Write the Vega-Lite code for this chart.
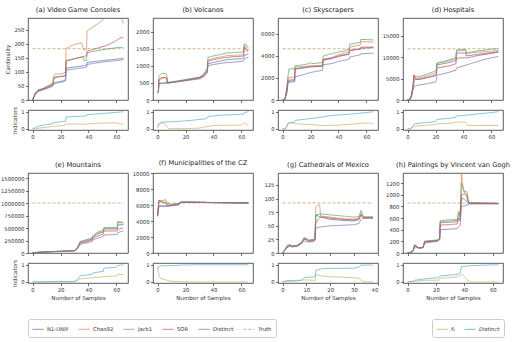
{
"$schema":"https://vega.github.io/schema/vega-lite/v6.json",
"padding":{"left":0,"top":6,"right":5,"bottom":4},
"datasets":{
"m":[
{"p":"a","s":"Truth","x":0,"y":182},{"p":"a","s":"Truth","x":65,"y":182},
{"p":"a","s":"N1-UNIF","x":0,"y":0},{"p":"a","s":"N1-UNIF","x":2,"y":22},{"p":"a","s":"N1-UNIF","x":4,"y":32},{"p":"a","s":"N1-UNIF","x":7,"y":37},{"p":"a","s":"N1-UNIF","x":10,"y":42},{"p":"a","s":"N1-UNIF","x":13,"y":48},{"p":"a","s":"N1-UNIF","x":14.6,"y":52},{"p":"a","s":"N1-UNIF","x":15,"y":60},{"p":"a","s":"N1-UNIF","x":19,"y":65},{"p":"a","s":"N1-UNIF","x":22,"y":68},{"p":"a","s":"N1-UNIF","x":23.6,"y":72},{"p":"a","s":"N1-UNIF","x":24,"y":113},{"p":"a","s":"N1-UNIF","x":30,"y":117},{"p":"a","s":"N1-UNIF","x":37,"y":122},{"p":"a","s":"N1-UNIF","x":38.6,"y":124},{"p":"a","s":"N1-UNIF","x":39,"y":133},{"p":"a","s":"N1-UNIF","x":45,"y":137},{"p":"a","s":"N1-UNIF","x":52,"y":141},{"p":"a","s":"N1-UNIF","x":60,"y":145},{"p":"a","s":"N1-UNIF","x":65,"y":148},
{"p":"a","s":"Chao92","x":0,"y":0},{"p":"a","s":"Chao92","x":2,"y":26},{"p":"a","s":"Chao92","x":4,"y":36},{"p":"a","s":"Chao92","x":7,"y":40},{"p":"a","s":"Chao92","x":10,"y":48},{"p":"a","s":"Chao92","x":13,"y":56},{"p":"a","s":"Chao92","x":14.6,"y":62},{"p":"a","s":"Chao92","x":15,"y":85},{"p":"a","s":"Chao92","x":16,"y":93},{"p":"a","s":"Chao92","x":19,"y":92},{"p":"a","s":"Chao92","x":22,"y":95},{"p":"a","s":"Chao92","x":23.6,"y":100},{"p":"a","s":"Chao92","x":24,"y":183},{"p":"a","s":"Chao92","x":27,"y":190},{"p":"a","s":"Chao92","x":30,"y":197},{"p":"a","s":"Chao92","x":35,"y":203},{"p":"a","s":"Chao92","x":36.5,"y":180},{"p":"a","s":"Chao92","x":38.6,"y":178},{"p":"a","s":"Chao92","x":39,"y":245},{"p":"a","s":"Chao92","x":44,"y":262},{"p":"a","s":"Chao92","x":48,"y":275},{"p":"a","s":"Chao92","x":52,"y":292},{"p":"a","s":"Chao92","x":56,"y":300},{"p":"a","s":"Chao92","x":61,"y":305},{"p":"a","s":"Chao92","x":64,"y":285},{"p":"a","s":"Chao92","x":65,"y":272},
{"p":"a","s":"Jack1","x":0,"y":0},{"p":"a","s":"Jack1","x":2,"y":24},{"p":"a","s":"Jack1","x":4,"y":34},{"p":"a","s":"Jack1","x":7,"y":39},{"p":"a","s":"Jack1","x":10,"y":45},{"p":"a","s":"Jack1","x":13,"y":52},{"p":"a","s":"Jack1","x":14.6,"y":56},{"p":"a","s":"Jack1","x":15,"y":72},{"p":"a","s":"Jack1","x":16,"y":82},{"p":"a","s":"Jack1","x":19,"y":84},{"p":"a","s":"Jack1","x":22,"y":85},{"p":"a","s":"Jack1","x":23.6,"y":88},{"p":"a","s":"Jack1","x":24,"y":140},{"p":"a","s":"Jack1","x":30,"y":147},{"p":"a","s":"Jack1","x":36,"y":153},{"p":"a","s":"Jack1","x":37,"y":140},{"p":"a","s":"Jack1","x":38.6,"y":140},{"p":"a","s":"Jack1","x":39,"y":168},{"p":"a","s":"Jack1","x":45,"y":174},{"p":"a","s":"Jack1","x":52,"y":180},{"p":"a","s":"Jack1","x":58,"y":184},{"p":"a","s":"Jack1","x":62,"y":187},{"p":"a","s":"Jack1","x":65,"y":185},
{"p":"a","s":"SOR","x":0,"y":0},{"p":"a","s":"SOR","x":2,"y":24},{"p":"a","s":"SOR","x":4,"y":34},{"p":"a","s":"SOR","x":7,"y":39},{"p":"a","s":"SOR","x":10,"y":45},{"p":"a","s":"SOR","x":13,"y":52},{"p":"a","s":"SOR","x":14.6,"y":56},{"p":"a","s":"SOR","x":15,"y":70},{"p":"a","s":"SOR","x":16,"y":80},{"p":"a","s":"SOR","x":19,"y":82},{"p":"a","s":"SOR","x":22,"y":84},{"p":"a","s":"SOR","x":23.6,"y":87},{"p":"a","s":"SOR","x":24,"y":138},{"p":"a","s":"SOR","x":30,"y":146},{"p":"a","s":"SOR","x":37,"y":155},{"p":"a","s":"SOR","x":38.6,"y":157},{"p":"a","s":"SOR","x":39,"y":173},{"p":"a","s":"SOR","x":45,"y":182},{"p":"a","s":"SOR","x":52,"y":192},{"p":"a","s":"SOR","x":58,"y":205},{"p":"a","s":"SOR","x":62,"y":218},{"p":"a","s":"SOR","x":64,"y":222},{"p":"a","s":"SOR","x":65,"y":219},
{"p":"a","s":"Distinct","x":0,"y":0},{"p":"a","s":"Distinct","x":2,"y":20},{"p":"a","s":"Distinct","x":4,"y":30},{"p":"a","s":"Distinct","x":7,"y":35},{"p":"a","s":"Distinct","x":10,"y":40},{"p":"a","s":"Distinct","x":13,"y":46},{"p":"a","s":"Distinct","x":14.6,"y":50},{"p":"a","s":"Distinct","x":15,"y":57},{"p":"a","s":"Distinct","x":19,"y":62},{"p":"a","s":"Distinct","x":22,"y":65},{"p":"a","s":"Distinct","x":23.6,"y":68},{"p":"a","s":"Distinct","x":24,"y":106},{"p":"a","s":"Distinct","x":30,"y":110},{"p":"a","s":"Distinct","x":37,"y":115},{"p":"a","s":"Distinct","x":38.6,"y":117},{"p":"a","s":"Distinct","x":39,"y":126},{"p":"a","s":"Distinct","x":45,"y":131},{"p":"a","s":"Distinct","x":52,"y":136},{"p":"a","s":"Distinct","x":60,"y":140},{"p":"a","s":"Distinct","x":65,"y":143},

{"p":"b","s":"Truth","x":0,"y":1500},{"p":"b","s":"Truth","x":65,"y":1500},
{"p":"b","s":"N1-UNIF","x":0,"y":210},{"p":"b","s":"N1-UNIF","x":0.6,"y":240},{"p":"b","s":"N1-UNIF","x":1,"y":490},{"p":"b","s":"N1-UNIF","x":5,"y":500},{"p":"b","s":"N1-UNIF","x":10,"y":520},{"p":"b","s":"N1-UNIF","x":20,"y":575},{"p":"b","s":"N1-UNIF","x":30,"y":640},{"p":"b","s":"N1-UNIF","x":33,"y":700},{"p":"b","s":"N1-UNIF","x":35,"y":790},{"p":"b","s":"N1-UNIF","x":35.6,"y":830},{"p":"b","s":"N1-UNIF","x":36,"y":1060},{"p":"b","s":"N1-UNIF","x":40,"y":1100},{"p":"b","s":"N1-UNIF","x":45,"y":1140},{"p":"b","s":"N1-UNIF","x":50,"y":1180},{"p":"b","s":"N1-UNIF","x":55,"y":1200},{"p":"b","s":"N1-UNIF","x":60,"y":1210},{"p":"b","s":"N1-UNIF","x":61.6,"y":1230},{"p":"b","s":"N1-UNIF","x":62,"y":1300},{"p":"b","s":"N1-UNIF","x":65,"y":1350},
{"p":"b","s":"Chao92","x":0,"y":220},{"p":"b","s":"Chao92","x":0.6,"y":250},{"p":"b","s":"Chao92","x":1,"y":600},{"p":"b","s":"Chao92","x":3,"y":660},{"p":"b","s":"Chao92","x":6,"y":660},{"p":"b","s":"Chao92","x":6.6,"y":650},{"p":"b","s":"Chao92","x":7,"y":500},{"p":"b","s":"Chao92","x":10,"y":515},{"p":"b","s":"Chao92","x":20,"y":590},{"p":"b","s":"Chao92","x":30,"y":660},{"p":"b","s":"Chao92","x":33,"y":730},{"p":"b","s":"Chao92","x":35,"y":850},{"p":"b","s":"Chao92","x":35.6,"y":890},{"p":"b","s":"Chao92","x":36,"y":1170},{"p":"b","s":"Chao92","x":40,"y":1220},{"p":"b","s":"Chao92","x":45,"y":1260},{"p":"b","s":"Chao92","x":50,"y":1300},{"p":"b","s":"Chao92","x":55,"y":1310},{"p":"b","s":"Chao92","x":60,"y":1320},{"p":"b","s":"Chao92","x":61.6,"y":1350},{"p":"b","s":"Chao92","x":62,"y":1600},{"p":"b","s":"Chao92","x":63.6,"y":1500},{"p":"b","s":"Chao92","x":64,"y":1420},{"p":"b","s":"Chao92","x":65,"y":1460},
{"p":"b","s":"Jack1","x":0,"y":220},{"p":"b","s":"Jack1","x":0.6,"y":260},{"p":"b","s":"Jack1","x":1,"y":700},{"p":"b","s":"Jack1","x":3,"y":780},{"p":"b","s":"Jack1","x":6,"y":770},{"p":"b","s":"Jack1","x":6.6,"y":740},{"p":"b","s":"Jack1","x":7,"y":520},{"p":"b","s":"Jack1","x":10,"y":530},{"p":"b","s":"Jack1","x":20,"y":600},{"p":"b","s":"Jack1","x":30,"y":670},{"p":"b","s":"Jack1","x":33,"y":760},{"p":"b","s":"Jack1","x":35,"y":900},{"p":"b","s":"Jack1","x":35.6,"y":950},{"p":"b","s":"Jack1","x":36,"y":1250},{"p":"b","s":"Jack1","x":40,"y":1290},{"p":"b","s":"Jack1","x":45,"y":1330},{"p":"b","s":"Jack1","x":50,"y":1380},{"p":"b","s":"Jack1","x":55,"y":1390},{"p":"b","s":"Jack1","x":60,"y":1400},{"p":"b","s":"Jack1","x":61.6,"y":1420},{"p":"b","s":"Jack1","x":62,"y":1640},{"p":"b","s":"Jack1","x":63.6,"y":1610},{"p":"b","s":"Jack1","x":64,"y":1550},{"p":"b","s":"Jack1","x":65,"y":1540},
{"p":"b","s":"SOR","x":0,"y":220},{"p":"b","s":"SOR","x":0.6,"y":250},{"p":"b","s":"SOR","x":1,"y":580},{"p":"b","s":"SOR","x":3,"y":640},{"p":"b","s":"SOR","x":6,"y":650},{"p":"b","s":"SOR","x":6.6,"y":640},{"p":"b","s":"SOR","x":7,"y":490},{"p":"b","s":"SOR","x":10,"y":510},{"p":"b","s":"SOR","x":20,"y":580},{"p":"b","s":"SOR","x":30,"y":650},{"p":"b","s":"SOR","x":33,"y":720},{"p":"b","s":"SOR","x":35,"y":830},{"p":"b","s":"SOR","x":35.6,"y":870},{"p":"b","s":"SOR","x":36,"y":1140},{"p":"b","s":"SOR","x":40,"y":1180},{"p":"b","s":"SOR","x":45,"y":1220},{"p":"b","s":"SOR","x":50,"y":1250},{"p":"b","s":"SOR","x":55,"y":1270},{"p":"b","s":"SOR","x":60,"y":1280},{"p":"b","s":"SOR","x":61.6,"y":1300},{"p":"b","s":"SOR","x":62,"y":1550},{"p":"b","s":"SOR","x":63.6,"y":1470},{"p":"b","s":"SOR","x":64,"y":1450},{"p":"b","s":"SOR","x":65,"y":1480},
{"p":"b","s":"Distinct","x":0,"y":200},{"p":"b","s":"Distinct","x":0.6,"y":230},{"p":"b","s":"Distinct","x":1,"y":470},{"p":"b","s":"Distinct","x":5,"y":490},{"p":"b","s":"Distinct","x":10,"y":510},{"p":"b","s":"Distinct","x":20,"y":560},{"p":"b","s":"Distinct","x":30,"y":620},{"p":"b","s":"Distinct","x":33,"y":680},{"p":"b","s":"Distinct","x":35,"y":760},{"p":"b","s":"Distinct","x":35.6,"y":800},{"p":"b","s":"Distinct","x":36,"y":1000},{"p":"b","s":"Distinct","x":40,"y":1040},{"p":"b","s":"Distinct","x":45,"y":1070},{"p":"b","s":"Distinct","x":50,"y":1100},{"p":"b","s":"Distinct","x":55,"y":1110},{"p":"b","s":"Distinct","x":60,"y":1130},{"p":"b","s":"Distinct","x":61.6,"y":1150},{"p":"b","s":"Distinct","x":62,"y":1200},{"p":"b","s":"Distinct","x":65,"y":1260},

{"p":"c","s":"Truth","x":0,"y":4650},{"p":"c","s":"Truth","x":65,"y":4650},
{"p":"c","s":"N1-UNIF","x":0,"y":0},{"p":"c","s":"N1-UNIF","x":1.6,"y":50},{"p":"c","s":"N1-UNIF","x":2,"y":220},{"p":"c","s":"N1-UNIF","x":3,"y":700},{"p":"c","s":"N1-UNIF","x":4,"y":1700},{"p":"c","s":"N1-UNIF","x":8.6,"y":1750},{"p":"c","s":"N1-UNIF","x":9,"y":2800},{"p":"c","s":"N1-UNIF","x":15,"y":2900},{"p":"c","s":"N1-UNIF","x":20,"y":3000},{"p":"c","s":"N1-UNIF","x":28.6,"y":3050},{"p":"c","s":"N1-UNIF","x":29,"y":3600},{"p":"c","s":"N1-UNIF","x":35,"y":3750},{"p":"c","s":"N1-UNIF","x":40,"y":3950},{"p":"c","s":"N1-UNIF","x":47.6,"y":4150},{"p":"c","s":"N1-UNIF","x":48,"y":4500},{"p":"c","s":"N1-UNIF","x":55.6,"y":4600},{"p":"c","s":"N1-UNIF","x":56,"y":4700},{"p":"c","s":"N1-UNIF","x":65,"y":4750},
{"p":"c","s":"Chao92","x":0,"y":0},{"p":"c","s":"Chao92","x":1.6,"y":60},{"p":"c","s":"Chao92","x":2,"y":250},{"p":"c","s":"Chao92","x":3,"y":900},{"p":"c","s":"Chao92","x":4,"y":2000},{"p":"c","s":"Chao92","x":8.6,"y":2100},{"p":"c","s":"Chao92","x":9,"y":3000},{"p":"c","s":"Chao92","x":15,"y":3050},{"p":"c","s":"Chao92","x":20,"y":3100},{"p":"c","s":"Chao92","x":28.6,"y":3150},{"p":"c","s":"Chao92","x":29,"y":3700},{"p":"c","s":"Chao92","x":35,"y":3850},{"p":"c","s":"Chao92","x":40,"y":4100},{"p":"c","s":"Chao92","x":47.6,"y":4400},{"p":"c","s":"Chao92","x":48,"y":4800},{"p":"c","s":"Chao92","x":55.6,"y":5000},{"p":"c","s":"Chao92","x":56,"y":5300},{"p":"c","s":"Chao92","x":65,"y":5250},
{"p":"c","s":"Jack1","x":0,"y":0},{"p":"c","s":"Jack1","x":1.6,"y":60},{"p":"c","s":"Jack1","x":2,"y":280},{"p":"c","s":"Jack1","x":3,"y":1100},{"p":"c","s":"Jack1","x":4,"y":2300},{"p":"c","s":"Jack1","x":4.6,"y":2800},{"p":"c","s":"Jack1","x":8.6,"y":2850},{"p":"c","s":"Jack1","x":9,"y":3100},{"p":"c","s":"Jack1","x":15,"y":3200},{"p":"c","s":"Jack1","x":19,"y":3300},{"p":"c","s":"Jack1","x":20,"y":3400},{"p":"c","s":"Jack1","x":21,"y":3300},{"p":"c","s":"Jack1","x":28.6,"y":3400},{"p":"c","s":"Jack1","x":29,"y":4000},{"p":"c","s":"Jack1","x":35,"y":4200},{"p":"c","s":"Jack1","x":40,"y":4350},{"p":"c","s":"Jack1","x":44,"y":4450},{"p":"c","s":"Jack1","x":47.6,"y":4600},{"p":"c","s":"Jack1","x":48,"y":5050},{"p":"c","s":"Jack1","x":55.6,"y":5250},{"p":"c","s":"Jack1","x":56,"y":5500},{"p":"c","s":"Jack1","x":65,"y":5450},
{"p":"c","s":"SOR","x":0,"y":0},{"p":"c","s":"SOR","x":1.6,"y":50},{"p":"c","s":"SOR","x":2,"y":230},{"p":"c","s":"SOR","x":3,"y":800},{"p":"c","s":"SOR","x":4,"y":1800},{"p":"c","s":"SOR","x":8.6,"y":1850},{"p":"c","s":"SOR","x":9,"y":2850},{"p":"c","s":"SOR","x":15,"y":2950},{"p":"c","s":"SOR","x":20,"y":3050},{"p":"c","s":"SOR","x":28.6,"y":3100},{"p":"c","s":"SOR","x":29,"y":3650},{"p":"c","s":"SOR","x":35,"y":3800},{"p":"c","s":"SOR","x":40,"y":4000},{"p":"c","s":"SOR","x":47.6,"y":4200},{"p":"c","s":"SOR","x":48,"y":4500},{"p":"c","s":"SOR","x":55.6,"y":4650},{"p":"c","s":"SOR","x":56,"y":4800},{"p":"c","s":"SOR","x":65,"y":4800},
{"p":"c","s":"Distinct","x":0,"y":0},{"p":"c","s":"Distinct","x":1.6,"y":50},{"p":"c","s":"Distinct","x":2,"y":200},{"p":"c","s":"Distinct","x":3,"y":600},{"p":"c","s":"Distinct","x":4,"y":1600},{"p":"c","s":"Distinct","x":8.6,"y":1650},{"p":"c","s":"Distinct","x":9,"y":2100},{"p":"c","s":"Distinct","x":15,"y":2300},{"p":"c","s":"Distinct","x":20,"y":2500},{"p":"c","s":"Distinct","x":28.6,"y":2700},{"p":"c","s":"Distinct","x":29,"y":3200},{"p":"c","s":"Distinct","x":35,"y":3300},{"p":"c","s":"Distinct","x":40,"y":3500},{"p":"c","s":"Distinct","x":47.6,"y":3700},{"p":"c","s":"Distinct","x":48,"y":3900},{"p":"c","s":"Distinct","x":55.6,"y":4100},{"p":"c","s":"Distinct","x":56,"y":4200},{"p":"c","s":"Distinct","x":65,"y":4250},

{"p":"d","s":"Truth","x":0,"y":12000},{"p":"d","s":"Truth","x":65,"y":12000},
{"p":"d","s":"N1-UNIF","x":0,"y":0},{"p":"d","s":"N1-UNIF","x":2,"y":250},{"p":"d","s":"N1-UNIF","x":3,"y":1200},{"p":"d","s":"N1-UNIF","x":4,"y":3000},{"p":"d","s":"N1-UNIF","x":5,"y":4800},{"p":"d","s":"N1-UNIF","x":10,"y":5000},{"p":"d","s":"N1-UNIF","x":15,"y":5400},{"p":"d","s":"N1-UNIF","x":20,"y":5800},{"p":"d","s":"N1-UNIF","x":20.6,"y":6200},{"p":"d","s":"N1-UNIF","x":21,"y":8200},{"p":"d","s":"N1-UNIF","x":30,"y":8800},{"p":"d","s":"N1-UNIF","x":34.6,"y":9200},{"p":"d","s":"N1-UNIF","x":35,"y":11000},{"p":"d","s":"N1-UNIF","x":41.6,"y":11000},{"p":"d","s":"N1-UNIF","x":42,"y":10300},{"p":"d","s":"N1-UNIF","x":50,"y":10700},{"p":"d","s":"N1-UNIF","x":60,"y":11100},{"p":"d","s":"N1-UNIF","x":65,"y":11300},
{"p":"d","s":"Chao92","x":0,"y":0},{"p":"d","s":"Chao92","x":2,"y":280},{"p":"d","s":"Chao92","x":3,"y":1400},{"p":"d","s":"Chao92","x":4,"y":3500},{"p":"d","s":"Chao92","x":4.6,"y":6000},{"p":"d","s":"Chao92","x":5,"y":5600},{"p":"d","s":"Chao92","x":6,"y":5100},{"p":"d","s":"Chao92","x":10,"y":5300},{"p":"d","s":"Chao92","x":15,"y":5800},{"p":"d","s":"Chao92","x":20,"y":6300},{"p":"d","s":"Chao92","x":20.6,"y":6700},{"p":"d","s":"Chao92","x":21,"y":8500},{"p":"d","s":"Chao92","x":30,"y":9200},{"p":"d","s":"Chao92","x":34.6,"y":9600},{"p":"d","s":"Chao92","x":35,"y":11500},{"p":"d","s":"Chao92","x":41.6,"y":11600},{"p":"d","s":"Chao92","x":42,"y":10900},{"p":"d","s":"Chao92","x":50,"y":11200},{"p":"d","s":"Chao92","x":60,"y":11400},{"p":"d","s":"Chao92","x":65,"y":11600},
{"p":"d","s":"Jack1","x":0,"y":0},{"p":"d","s":"Jack1","x":2,"y":300},{"p":"d","s":"Jack1","x":3,"y":1600},{"p":"d","s":"Jack1","x":4,"y":4000},{"p":"d","s":"Jack1","x":4.6,"y":5500},{"p":"d","s":"Jack1","x":6,"y":5500},{"p":"d","s":"Jack1","x":10,"y":5600},{"p":"d","s":"Jack1","x":15,"y":6200},{"p":"d","s":"Jack1","x":20,"y":6800},{"p":"d","s":"Jack1","x":20.6,"y":7100},{"p":"d","s":"Jack1","x":21,"y":8700},{"p":"d","s":"Jack1","x":30,"y":9400},{"p":"d","s":"Jack1","x":34.6,"y":9900},{"p":"d","s":"Jack1","x":35,"y":11700},{"p":"d","s":"Jack1","x":41.6,"y":11900},{"p":"d","s":"Jack1","x":42,"y":11000},{"p":"d","s":"Jack1","x":50,"y":11500},{"p":"d","s":"Jack1","x":60,"y":11900},{"p":"d","s":"Jack1","x":65,"y":12000},
{"p":"d","s":"SOR","x":0,"y":0},{"p":"d","s":"SOR","x":2,"y":250},{"p":"d","s":"SOR","x":3,"y":1200},{"p":"d","s":"SOR","x":4,"y":3000},{"p":"d","s":"SOR","x":4.6,"y":5800},{"p":"d","s":"SOR","x":5,"y":5300},{"p":"d","s":"SOR","x":6,"y":4800},{"p":"d","s":"SOR","x":10,"y":4900},{"p":"d","s":"SOR","x":15,"y":5300},{"p":"d","s":"SOR","x":20,"y":5700},{"p":"d","s":"SOR","x":20.6,"y":6000},{"p":"d","s":"SOR","x":21,"y":7500},{"p":"d","s":"SOR","x":30,"y":8000},{"p":"d","s":"SOR","x":34.6,"y":8500},{"p":"d","s":"SOR","x":35,"y":9800},{"p":"d","s":"SOR","x":41.6,"y":9900},{"p":"d","s":"SOR","x":42,"y":9800},{"p":"d","s":"SOR","x":50,"y":10400},{"p":"d","s":"SOR","x":60,"y":10900},{"p":"d","s":"SOR","x":65,"y":11200},
{"p":"d","s":"Distinct","x":0,"y":0},{"p":"d","s":"Distinct","x":2,"y":200},{"p":"d","s":"Distinct","x":3,"y":1000},{"p":"d","s":"Distinct","x":4,"y":2500},{"p":"d","s":"Distinct","x":5,"y":3300},{"p":"d","s":"Distinct","x":10,"y":3600},{"p":"d","s":"Distinct","x":15,"y":3900},{"p":"d","s":"Distinct","x":20,"y":4200},{"p":"d","s":"Distinct","x":20.6,"y":4500},{"p":"d","s":"Distinct","x":21,"y":5800},{"p":"d","s":"Distinct","x":30,"y":6500},{"p":"d","s":"Distinct","x":34.6,"y":7000},{"p":"d","s":"Distinct","x":35,"y":7500},{"p":"d","s":"Distinct","x":40,"y":8000},{"p":"d","s":"Distinct","x":45,"y":8500},{"p":"d","s":"Distinct","x":50,"y":9000},{"p":"d","s":"Distinct","x":55,"y":9500},{"p":"d","s":"Distinct","x":60,"y":9900},{"p":"d","s":"Distinct","x":65,"y":10200},

{"p":"e","s":"Truth","x":0,"y":1000000},{"p":"e","s":"Truth","x":65,"y":1000000},
{"p":"e","s":"N1-UNIF","x":0,"y":6000},{"p":"e","s":"N1-UNIF","x":10,"y":23000},{"p":"e","s":"N1-UNIF","x":20,"y":34000},{"p":"e","s":"N1-UNIF","x":30,"y":46000},{"p":"e","s":"N1-UNIF","x":32,"y":95000},{"p":"e","s":"N1-UNIF","x":34,"y":210000},{"p":"e","s":"N1-UNIF","x":40,"y":250000},{"p":"e","s":"N1-UNIF","x":42.6,"y":280000},{"p":"e","s":"N1-UNIF","x":43,"y":310000},{"p":"e","s":"N1-UNIF","x":46,"y":370000},{"p":"e","s":"N1-UNIF","x":50.6,"y":420000},{"p":"e","s":"N1-UNIF","x":51,"y":480000},{"p":"e","s":"N1-UNIF","x":60.6,"y":480000},{"p":"e","s":"N1-UNIF","x":61,"y":560000},{"p":"e","s":"N1-UNIF","x":65,"y":570000},
{"p":"e","s":"Chao92","x":0,"y":6000},{"p":"e","s":"Chao92","x":10,"y":24000},{"p":"e","s":"Chao92","x":20,"y":35000},{"p":"e","s":"Chao92","x":30,"y":48000},{"p":"e","s":"Chao92","x":32,"y":100000},{"p":"e","s":"Chao92","x":34,"y":220000},{"p":"e","s":"Chao92","x":40,"y":265000},{"p":"e","s":"Chao92","x":42.6,"y":290000},{"p":"e","s":"Chao92","x":43,"y":325000},{"p":"e","s":"Chao92","x":46,"y":390000},{"p":"e","s":"Chao92","x":50.6,"y":440000},{"p":"e","s":"Chao92","x":51,"y":495000},{"p":"e","s":"Chao92","x":60.6,"y":495000},{"p":"e","s":"Chao92","x":61,"y":610000},{"p":"e","s":"Chao92","x":65,"y":600000},
{"p":"e","s":"Jack1","x":0,"y":7000},{"p":"e","s":"Jack1","x":10,"y":25000},{"p":"e","s":"Jack1","x":20,"y":36000},{"p":"e","s":"Jack1","x":30,"y":50000},{"p":"e","s":"Jack1","x":32,"y":105000},{"p":"e","s":"Jack1","x":34,"y":230000},{"p":"e","s":"Jack1","x":40,"y":280000},{"p":"e","s":"Jack1","x":42.6,"y":305000},{"p":"e","s":"Jack1","x":43,"y":340000},{"p":"e","s":"Jack1","x":46,"y":410000},{"p":"e","s":"Jack1","x":50.6,"y":460000},{"p":"e","s":"Jack1","x":51,"y":510000},{"p":"e","s":"Jack1","x":60.6,"y":510000},{"p":"e","s":"Jack1","x":61,"y":630000},{"p":"e","s":"Jack1","x":65,"y":610000},
{"p":"e","s":"SOR","x":0,"y":6000},{"p":"e","s":"SOR","x":10,"y":22000},{"p":"e","s":"SOR","x":20,"y":33000},{"p":"e","s":"SOR","x":30,"y":45000},{"p":"e","s":"SOR","x":32,"y":90000},{"p":"e","s":"SOR","x":34,"y":195000},{"p":"e","s":"SOR","x":40,"y":235000},{"p":"e","s":"SOR","x":42.6,"y":260000},{"p":"e","s":"SOR","x":43,"y":295000},{"p":"e","s":"SOR","x":46,"y":330000},{"p":"e","s":"SOR","x":50.6,"y":380000},{"p":"e","s":"SOR","x":51,"y":440000},{"p":"e","s":"SOR","x":60.6,"y":440000},{"p":"e","s":"SOR","x":61,"y":470000},{"p":"e","s":"SOR","x":65,"y":500000},
{"p":"e","s":"Distinct","x":0,"y":5000},{"p":"e","s":"Distinct","x":10,"y":20000},{"p":"e","s":"Distinct","x":20,"y":30000},{"p":"e","s":"Distinct","x":30,"y":40000},{"p":"e","s":"Distinct","x":32,"y":80000},{"p":"e","s":"Distinct","x":34,"y":170000},{"p":"e","s":"Distinct","x":40,"y":210000},{"p":"e","s":"Distinct","x":42.6,"y":230000},{"p":"e","s":"Distinct","x":43,"y":260000},{"p":"e","s":"Distinct","x":46,"y":290000},{"p":"e","s":"Distinct","x":50.6,"y":330000},{"p":"e","s":"Distinct","x":51,"y":360000},{"p":"e","s":"Distinct","x":60.6,"y":370000},{"p":"e","s":"Distinct","x":61,"y":410000},{"p":"e","s":"Distinct","x":65,"y":440000},

{"p":"f","s":"Truth","x":0,"y":6250},{"p":"f","s":"Truth","x":65,"y":6250},
{"p":"f","s":"N1-UNIF","x":0,"y":4600},{"p":"f","s":"N1-UNIF","x":1,"y":5900},{"p":"f","s":"N1-UNIF","x":5,"y":5900},{"p":"f","s":"N1-UNIF","x":7,"y":5900},{"p":"f","s":"N1-UNIF","x":10,"y":5950},{"p":"f","s":"N1-UNIF","x":15,"y":6050},{"p":"f","s":"N1-UNIF","x":17,"y":6320},{"p":"f","s":"N1-UNIF","x":25,"y":6340},{"p":"f","s":"N1-UNIF","x":40,"y":6300},{"p":"f","s":"N1-UNIF","x":65,"y":6250},
{"p":"f","s":"Chao92","x":0,"y":4650},{"p":"f","s":"Chao92","x":1,"y":6500},{"p":"f","s":"Chao92","x":3,"y":6350},{"p":"f","s":"Chao92","x":6,"y":6250},{"p":"f","s":"Chao92","x":7,"y":6000},{"p":"f","s":"Chao92","x":10,"y":6050},{"p":"f","s":"Chao92","x":15,"y":6150},{"p":"f","s":"Chao92","x":17,"y":6380},{"p":"f","s":"Chao92","x":25,"y":6360},{"p":"f","s":"Chao92","x":40,"y":6300},{"p":"f","s":"Chao92","x":65,"y":6250},
{"p":"f","s":"Jack1","x":0,"y":4700},{"p":"f","s":"Jack1","x":1,"y":6600},{"p":"f","s":"Jack1","x":3,"y":6550},{"p":"f","s":"Jack1","x":6,"y":6650},{"p":"f","s":"Jack1","x":7,"y":6200},{"p":"f","s":"Jack1","x":10,"y":6100},{"p":"f","s":"Jack1","x":15,"y":6200},{"p":"f","s":"Jack1","x":17,"y":6400},{"p":"f","s":"Jack1","x":25,"y":6380},{"p":"f","s":"Jack1","x":40,"y":6310},{"p":"f","s":"Jack1","x":65,"y":6260},
{"p":"f","s":"SOR","x":0,"y":4650},{"p":"f","s":"SOR","x":1,"y":6600},{"p":"f","s":"SOR","x":3,"y":6400},{"p":"f","s":"SOR","x":6,"y":6300},{"p":"f","s":"SOR","x":7,"y":5900},{"p":"f","s":"SOR","x":10,"y":5950},{"p":"f","s":"SOR","x":15,"y":6100},{"p":"f","s":"SOR","x":17,"y":6350},{"p":"f","s":"SOR","x":25,"y":6350},{"p":"f","s":"SOR","x":40,"y":6300},{"p":"f","s":"SOR","x":65,"y":6250},
{"p":"f","s":"Distinct","x":0,"y":4600},{"p":"f","s":"Distinct","x":1,"y":5800},{"p":"f","s":"Distinct","x":5,"y":5800},{"p":"f","s":"Distinct","x":7,"y":5850},{"p":"f","s":"Distinct","x":10,"y":5900},{"p":"f","s":"Distinct","x":15,"y":6000},{"p":"f","s":"Distinct","x":17,"y":6300},{"p":"f","s":"Distinct","x":25,"y":6330},{"p":"f","s":"Distinct","x":40,"y":6300},{"p":"f","s":"Distinct","x":65,"y":6250},

{"p":"g","s":"Truth","x":0,"y":92},{"p":"g","s":"Truth","x":38,"y":92},
{"p":"g","s":"N1-UNIF","x":0,"y":0},{"p":"g","s":"N1-UNIF","x":1,"y":6},{"p":"g","s":"N1-UNIF","x":2,"y":13},{"p":"g","s":"N1-UNIF","x":3,"y":15},{"p":"g","s":"N1-UNIF","x":4,"y":13},{"p":"g","s":"N1-UNIF","x":6,"y":13},{"p":"g","s":"N1-UNIF","x":8,"y":19},{"p":"g","s":"N1-UNIF","x":9,"y":25},{"p":"g","s":"N1-UNIF","x":10,"y":24},{"p":"g","s":"N1-UNIF","x":11,"y":22},{"p":"g","s":"N1-UNIF","x":13,"y":22},{"p":"g","s":"N1-UNIF","x":13.6,"y":24},{"p":"g","s":"N1-UNIF","x":14,"y":70},{"p":"g","s":"N1-UNIF","x":16,"y":66},{"p":"g","s":"N1-UNIF","x":20,"y":62},{"p":"g","s":"N1-UNIF","x":25,"y":60},{"p":"g","s":"N1-UNIF","x":30,"y":59},{"p":"g","s":"N1-UNIF","x":32,"y":61},{"p":"g","s":"N1-UNIF","x":33,"y":70},{"p":"g","s":"N1-UNIF","x":34,"y":66},{"p":"g","s":"N1-UNIF","x":38,"y":66},
{"p":"g","s":"Chao92","x":0,"y":0},{"p":"g","s":"Chao92","x":1,"y":6},{"p":"g","s":"Chao92","x":2,"y":12},{"p":"g","s":"Chao92","x":3,"y":14},{"p":"g","s":"Chao92","x":4,"y":12},{"p":"g","s":"Chao92","x":6,"y":13},{"p":"g","s":"Chao92","x":8,"y":19},{"p":"g","s":"Chao92","x":9,"y":27},{"p":"g","s":"Chao92","x":10,"y":26},{"p":"g","s":"Chao92","x":11,"y":23},{"p":"g","s":"Chao92","x":13,"y":24},{"p":"g","s":"Chao92","x":13.6,"y":26},{"p":"g","s":"Chao92","x":14,"y":85},{"p":"g","s":"Chao92","x":15,"y":89},{"p":"g","s":"Chao92","x":15.6,"y":88},{"p":"g","s":"Chao92","x":16,"y":68},{"p":"g","s":"Chao92","x":20,"y":66},{"p":"g","s":"Chao92","x":25,"y":63},{"p":"g","s":"Chao92","x":30,"y":62},{"p":"g","s":"Chao92","x":32,"y":64},{"p":"g","s":"Chao92","x":33,"y":73},{"p":"g","s":"Chao92","x":34,"y":65},{"p":"g","s":"Chao92","x":38,"y":65},
{"p":"g","s":"Jack1","x":0,"y":0},{"p":"g","s":"Jack1","x":1,"y":6},{"p":"g","s":"Jack1","x":2,"y":14},{"p":"g","s":"Jack1","x":3,"y":15},{"p":"g","s":"Jack1","x":4,"y":13},{"p":"g","s":"Jack1","x":6,"y":14},{"p":"g","s":"Jack1","x":8,"y":20},{"p":"g","s":"Jack1","x":9,"y":28},{"p":"g","s":"Jack1","x":10,"y":27},{"p":"g","s":"Jack1","x":11,"y":24},{"p":"g","s":"Jack1","x":13,"y":25},{"p":"g","s":"Jack1","x":13.6,"y":27},{"p":"g","s":"Jack1","x":14,"y":70},{"p":"g","s":"Jack1","x":16,"y":72},{"p":"g","s":"Jack1","x":20,"y":70},{"p":"g","s":"Jack1","x":25,"y":68},{"p":"g","s":"Jack1","x":30,"y":66},{"p":"g","s":"Jack1","x":32,"y":67},{"p":"g","s":"Jack1","x":33,"y":78},{"p":"g","s":"Jack1","x":34,"y":66},{"p":"g","s":"Jack1","x":38,"y":66},
{"p":"g","s":"SOR","x":0,"y":0},{"p":"g","s":"SOR","x":1,"y":5},{"p":"g","s":"SOR","x":2,"y":11},{"p":"g","s":"SOR","x":3,"y":13},{"p":"g","s":"SOR","x":4,"y":12},{"p":"g","s":"SOR","x":6,"y":13},{"p":"g","s":"SOR","x":8,"y":18},{"p":"g","s":"SOR","x":9,"y":26},{"p":"g","s":"SOR","x":10,"y":25},{"p":"g","s":"SOR","x":11,"y":22},{"p":"g","s":"SOR","x":13,"y":23},{"p":"g","s":"SOR","x":13.6,"y":25},{"p":"g","s":"SOR","x":14,"y":55},{"p":"g","s":"SOR","x":15,"y":62},{"p":"g","s":"SOR","x":16,"y":66},{"p":"g","s":"SOR","x":20,"y":64},{"p":"g","s":"SOR","x":25,"y":62},{"p":"g","s":"SOR","x":30,"y":61},{"p":"g","s":"SOR","x":32,"y":62},{"p":"g","s":"SOR","x":33,"y":70},{"p":"g","s":"SOR","x":34,"y":64},{"p":"g","s":"SOR","x":38,"y":64},
{"p":"g","s":"Distinct","x":0,"y":0},{"p":"g","s":"Distinct","x":1,"y":5},{"p":"g","s":"Distinct","x":2,"y":10},{"p":"g","s":"Distinct","x":3,"y":12},{"p":"g","s":"Distinct","x":4,"y":11},{"p":"g","s":"Distinct","x":6,"y":12},{"p":"g","s":"Distinct","x":8,"y":17},{"p":"g","s":"Distinct","x":9,"y":22},{"p":"g","s":"Distinct","x":10,"y":21},{"p":"g","s":"Distinct","x":11,"y":20},{"p":"g","s":"Distinct","x":13,"y":21},{"p":"g","s":"Distinct","x":13.6,"y":23},{"p":"g","s":"Distinct","x":14,"y":46},{"p":"g","s":"Distinct","x":16,"y":48},{"p":"g","s":"Distinct","x":20,"y":50},{"p":"g","s":"Distinct","x":25,"y":51},{"p":"g","s":"Distinct","x":30,"y":52},{"p":"g","s":"Distinct","x":32,"y":54},{"p":"g","s":"Distinct","x":33,"y":62},{"p":"g","s":"Distinct","x":34,"y":64},{"p":"g","s":"Distinct","x":38,"y":64},

{"p":"h","s":"Truth","x":0,"y":860},{"p":"h","s":"Truth","x":64,"y":860},
{"p":"h","s":"N1-UNIF","x":0,"y":0},{"p":"h","s":"N1-UNIF","x":3,"y":16},{"p":"h","s":"N1-UNIF","x":4,"y":45},{"p":"h","s":"N1-UNIF","x":5,"y":120},{"p":"h","s":"N1-UNIF","x":6,"y":110},{"p":"h","s":"N1-UNIF","x":8,"y":85},{"p":"h","s":"N1-UNIF","x":11,"y":95},{"p":"h","s":"N1-UNIF","x":12,"y":185},{"p":"h","s":"N1-UNIF","x":15,"y":195},{"p":"h","s":"N1-UNIF","x":21,"y":210},{"p":"h","s":"N1-UNIF","x":22,"y":225},{"p":"h","s":"N1-UNIF","x":22.6,"y":240},{"p":"h","s":"N1-UNIF","x":23,"y":520},{"p":"h","s":"N1-UNIF","x":30,"y":530},{"p":"h","s":"N1-UNIF","x":35,"y":540},{"p":"h","s":"N1-UNIF","x":36,"y":580},{"p":"h","s":"N1-UNIF","x":37,"y":560},{"p":"h","s":"N1-UNIF","x":38,"y":950},{"p":"h","s":"N1-UNIF","x":40,"y":920},{"p":"h","s":"N1-UNIF","x":42,"y":880},{"p":"h","s":"N1-UNIF","x":44,"y":850},{"p":"h","s":"N1-UNIF","x":64,"y":850},
{"p":"h","s":"Chao92","x":0,"y":0},{"p":"h","s":"Chao92","x":3,"y":17},{"p":"h","s":"Chao92","x":4,"y":50},{"p":"h","s":"Chao92","x":5,"y":140},{"p":"h","s":"Chao92","x":6,"y":120},{"p":"h","s":"Chao92","x":8,"y":90},{"p":"h","s":"Chao92","x":11,"y":100},{"p":"h","s":"Chao92","x":12,"y":200},{"p":"h","s":"Chao92","x":15,"y":205},{"p":"h","s":"Chao92","x":21,"y":220},{"p":"h","s":"Chao92","x":22,"y":235},{"p":"h","s":"Chao92","x":22.6,"y":250},{"p":"h","s":"Chao92","x":23,"y":540},{"p":"h","s":"Chao92","x":30,"y":550},{"p":"h","s":"Chao92","x":35,"y":560},{"p":"h","s":"Chao92","x":36,"y":720},{"p":"h","s":"Chao92","x":37,"y":650},{"p":"h","s":"Chao92","x":38,"y":1380},{"p":"h","s":"Chao92","x":39,"y":1100},{"p":"h","s":"Chao92","x":40,"y":1050},{"p":"h","s":"Chao92","x":41,"y":1060},{"p":"h","s":"Chao92","x":42,"y":1050},{"p":"h","s":"Chao92","x":43,"y":870},{"p":"h","s":"Chao92","x":64,"y":855},
{"p":"h","s":"Jack1","x":0,"y":0},{"p":"h","s":"Jack1","x":3,"y":18},{"p":"h","s":"Jack1","x":4,"y":55},{"p":"h","s":"Jack1","x":5,"y":145},{"p":"h","s":"Jack1","x":6,"y":125},{"p":"h","s":"Jack1","x":8,"y":90},{"p":"h","s":"Jack1","x":11,"y":100},{"p":"h","s":"Jack1","x":12,"y":205},{"p":"h","s":"Jack1","x":15,"y":210},{"p":"h","s":"Jack1","x":21,"y":225},{"p":"h","s":"Jack1","x":22,"y":240},{"p":"h","s":"Jack1","x":22.6,"y":255},{"p":"h","s":"Jack1","x":23,"y":560},{"p":"h","s":"Jack1","x":30,"y":570},{"p":"h","s":"Jack1","x":35,"y":580},{"p":"h","s":"Jack1","x":36,"y":700},{"p":"h","s":"Jack1","x":37,"y":620},{"p":"h","s":"Jack1","x":38,"y":1200},{"p":"h","s":"Jack1","x":39,"y":1150},{"p":"h","s":"Jack1","x":40,"y":1050},{"p":"h","s":"Jack1","x":42,"y":1000},{"p":"h","s":"Jack1","x":43,"y":860},{"p":"h","s":"Jack1","x":64,"y":855},
{"p":"h","s":"SOR","x":0,"y":0},{"p":"h","s":"SOR","x":3,"y":16},{"p":"h","s":"SOR","x":4,"y":45},{"p":"h","s":"SOR","x":5,"y":125},{"p":"h","s":"SOR","x":6,"y":110},{"p":"h","s":"SOR","x":8,"y":85},{"p":"h","s":"SOR","x":11,"y":95},{"p":"h","s":"SOR","x":12,"y":190},{"p":"h","s":"SOR","x":15,"y":200},{"p":"h","s":"SOR","x":21,"y":215},{"p":"h","s":"SOR","x":22,"y":230},{"p":"h","s":"SOR","x":22.6,"y":245},{"p":"h","s":"SOR","x":23,"y":480},{"p":"h","s":"SOR","x":30,"y":490},{"p":"h","s":"SOR","x":35,"y":500},{"p":"h","s":"SOR","x":36,"y":600},{"p":"h","s":"SOR","x":37,"y":580},{"p":"h","s":"SOR","x":38,"y":1000},{"p":"h","s":"SOR","x":40,"y":1020},{"p":"h","s":"SOR","x":41,"y":1010},{"p":"h","s":"SOR","x":43,"y":860},{"p":"h","s":"SOR","x":64,"y":850},
{"p":"h","s":"Distinct","x":0,"y":0},{"p":"h","s":"Distinct","x":3,"y":15},{"p":"h","s":"Distinct","x":4,"y":40},{"p":"h","s":"Distinct","x":5,"y":110},{"p":"h","s":"Distinct","x":6,"y":100},{"p":"h","s":"Distinct","x":8,"y":80},{"p":"h","s":"Distinct","x":11,"y":90},{"p":"h","s":"Distinct","x":12,"y":170},{"p":"h","s":"Distinct","x":15,"y":180},{"p":"h","s":"Distinct","x":21,"y":200},{"p":"h","s":"Distinct","x":22,"y":220},{"p":"h","s":"Distinct","x":22.6,"y":230},{"p":"h","s":"Distinct","x":23,"y":400},{"p":"h","s":"Distinct","x":30,"y":410},{"p":"h","s":"Distinct","x":35,"y":420},{"p":"h","s":"Distinct","x":36,"y":450},{"p":"h","s":"Distinct","x":37,"y":480},{"p":"h","s":"Distinct","x":38,"y":800},{"p":"h","s":"Distinct","x":40,"y":810},{"p":"h","s":"Distinct","x":42,"y":830},{"p":"h","s":"Distinct","x":44,"y":845},{"p":"h","s":"Distinct","x":64,"y":845}
],
"i":[
{"p":"a","s":"f₁","x":0,"y":0},{"p":"a","s":"f₁","x":5,"y":0.05},{"p":"a","s":"f₁","x":10,"y":0.1},{"p":"a","s":"f₁","x":15,"y":0.15},{"p":"a","s":"f₁","x":22,"y":0.2},{"p":"a","s":"f₁","x":24,"y":0.27},{"p":"a","s":"f₁","x":30,"y":0.3},{"p":"a","s":"f₁","x":37,"y":0.27},{"p":"a","s":"f₁","x":40,"y":0.3},{"p":"a","s":"f₁","x":50,"y":0.34},{"p":"a","s":"f₁","x":60,"y":0.35},{"p":"a","s":"f₁","x":65,"y":0.27},
{"p":"a","s":"Distinct","x":0,"y":0},{"p":"a","s":"Distinct","x":3,"y":0.12},{"p":"a","s":"Distinct","x":6,"y":0.2},{"p":"a","s":"Distinct","x":10,"y":0.25},{"p":"a","s":"Distinct","x":14.6,"y":0.3},{"p":"a","s":"Distinct","x":15,"y":0.37},{"p":"a","s":"Distinct","x":20,"y":0.42},{"p":"a","s":"Distinct","x":23.6,"y":0.45},{"p":"a","s":"Distinct","x":24,"y":0.7},{"p":"a","s":"Distinct","x":30,"y":0.72},{"p":"a","s":"Distinct","x":38.6,"y":0.76},{"p":"a","s":"Distinct","x":39,"y":0.83},{"p":"a","s":"Distinct","x":50,"y":0.9},{"p":"a","s":"Distinct","x":60,"y":0.96},{"p":"a","s":"Distinct","x":65,"y":1.0},
{"p":"b","s":"f₁","x":0,"y":0.05},{"p":"b","s":"f₁","x":1,"y":0.3},{"p":"b","s":"f₁","x":3,"y":0.35},{"p":"b","s":"f₁","x":5,"y":0.3},{"p":"b","s":"f₁","x":7,"y":0.1},{"p":"b","s":"f₁","x":8,"y":0.02},{"p":"b","s":"f₁","x":20,"y":0.02},{"p":"b","s":"f₁","x":30,"y":0.05},{"p":"b","s":"f₁","x":36,"y":0.15},{"p":"b","s":"f₁","x":40,"y":0.2},{"p":"b","s":"f₁","x":50,"y":0.22},{"p":"b","s":"f₁","x":60,"y":0.22},{"p":"b","s":"f₁","x":62,"y":0.35},{"p":"b","s":"f₁","x":63,"y":0.33},{"p":"b","s":"f₁","x":65,"y":0.15},
{"p":"b","s":"Distinct","x":0,"y":0.15},{"p":"b","s":"Distinct","x":1,"y":0.3},{"p":"b","s":"Distinct","x":3,"y":0.4},{"p":"b","s":"Distinct","x":10,"y":0.42},{"p":"b","s":"Distinct","x":20,"y":0.47},{"p":"b","s":"Distinct","x":30,"y":0.55},{"p":"b","s":"Distinct","x":35,"y":0.6},{"p":"b","s":"Distinct","x":36,"y":0.72},{"p":"b","s":"Distinct","x":45,"y":0.8},{"p":"b","s":"Distinct","x":55,"y":0.83},{"p":"b","s":"Distinct","x":61.6,"y":0.86},{"p":"b","s":"Distinct","x":62,"y":0.95},{"p":"b","s":"Distinct","x":65,"y":1.0},
{"p":"c","s":"f₁","x":0,"y":0},{"p":"c","s":"f₁","x":2,"y":0},{"p":"c","s":"f₁","x":3,"y":0.15},{"p":"c","s":"f₁","x":4,"y":0.33},{"p":"c","s":"f₁","x":6,"y":0.38},{"p":"c","s":"f₁","x":9,"y":0.3},{"p":"c","s":"f₁","x":20,"y":0.25},{"p":"c","s":"f₁","x":29,"y":0.2},{"p":"c","s":"f₁","x":40,"y":0.22},{"p":"c","s":"f₁","x":48,"y":0.27},{"p":"c","s":"f₁","x":56,"y":0.33},{"p":"c","s":"f₁","x":62,"y":0.35},{"p":"c","s":"f₁","x":65,"y":0.3},
{"p":"c","s":"Distinct","x":0,"y":0},{"p":"c","s":"Distinct","x":2,"y":0},{"p":"c","s":"Distinct","x":3,"y":0.15},{"p":"c","s":"Distinct","x":4,"y":0.33},{"p":"c","s":"Distinct","x":8.6,"y":0.4},{"p":"c","s":"Distinct","x":9,"y":0.5},{"p":"c","s":"Distinct","x":20,"y":0.6},{"p":"c","s":"Distinct","x":29,"y":0.7},{"p":"c","s":"Distinct","x":35,"y":0.78},{"p":"c","s":"Distinct","x":48,"y":0.86},{"p":"c","s":"Distinct","x":56,"y":0.92},{"p":"c","s":"Distinct","x":65,"y":1.0},
{"p":"d","s":"f₁","x":0,"y":0},{"p":"d","s":"f₁","x":2,"y":0},{"p":"d","s":"f₁","x":4,"y":0.1},{"p":"d","s":"f₁","x":5,"y":0.15},{"p":"d","s":"f₁","x":10,"y":0.2},{"p":"d","s":"f₁","x":20,"y":0.25},{"p":"d","s":"f₁","x":21,"y":0.3},{"p":"d","s":"f₁","x":30,"y":0.32},{"p":"d","s":"f₁","x":35,"y":0.4},{"p":"d","s":"f₁","x":41.6,"y":0.4},{"p":"d","s":"f₁","x":43,"y":0.2},{"p":"d","s":"f₁","x":50,"y":0.2},{"p":"d","s":"f₁","x":65,"y":0.2},
{"p":"d","s":"Distinct","x":0,"y":0},{"p":"d","s":"Distinct","x":2,"y":0},{"p":"d","s":"Distinct","x":4,"y":0.2},{"p":"d","s":"Distinct","x":5,"y":0.3},{"p":"d","s":"Distinct","x":10,"y":0.35},{"p":"d","s":"Distinct","x":20,"y":0.42},{"p":"d","s":"Distinct","x":21,"y":0.55},{"p":"d","s":"Distinct","x":30,"y":0.62},{"p":"d","s":"Distinct","x":34.6,"y":0.68},{"p":"d","s":"Distinct","x":35,"y":0.75},{"p":"d","s":"Distinct","x":42,"y":0.8},{"p":"d","s":"Distinct","x":50,"y":0.87},{"p":"d","s":"Distinct","x":60,"y":0.95},{"p":"d","s":"Distinct","x":65,"y":1.0},
{"p":"e","s":"f₁","x":0,"y":0},{"p":"e","s":"f₁","x":30,"y":0.02},{"p":"e","s":"f₁","x":32,"y":0.08},{"p":"e","s":"f₁","x":34,"y":0.18},{"p":"e","s":"f₁","x":43,"y":0.25},{"p":"e","s":"f₁","x":50,"y":0.3},{"p":"e","s":"f₁","x":55,"y":0.33},{"p":"e","s":"f₁","x":60.6,"y":0.35},{"p":"e","s":"f₁","x":61,"y":0.45},{"p":"e","s":"f₁","x":65,"y":0.42},
{"p":"e","s":"Distinct","x":0,"y":0},{"p":"e","s":"Distinct","x":30,"y":0.02},{"p":"e","s":"Distinct","x":32,"y":0.15},{"p":"e","s":"Distinct","x":34,"y":0.35},{"p":"e","s":"Distinct","x":42.6,"y":0.45},{"p":"e","s":"Distinct","x":43,"y":0.52},{"p":"e","s":"Distinct","x":50.6,"y":0.62},{"p":"e","s":"Distinct","x":51,"y":0.8},{"p":"e","s":"Distinct","x":60,"y":0.85},{"p":"e","s":"Distinct","x":61,"y":0.95},{"p":"e","s":"Distinct","x":65,"y":1.0},
{"p":"f","s":"f₁","x":0,"y":0.8},{"p":"f","s":"f₁","x":1,"y":0.4},{"p":"f","s":"f₁","x":2,"y":0.2},{"p":"f","s":"f₁","x":5,"y":0.15},{"p":"f","s":"f₁","x":7,"y":0.08},{"p":"f","s":"f₁","x":10,"y":0.04},{"p":"f","s":"f₁","x":17,"y":0.01},{"p":"f","s":"f₁","x":30,"y":0},{"p":"f","s":"f₁","x":65,"y":0},
{"p":"f","s":"Distinct","x":0,"y":0.75},{"p":"f","s":"Distinct","x":1,"y":0.93},{"p":"f","s":"Distinct","x":5,"y":0.94},{"p":"f","s":"Distinct","x":10,"y":0.95},{"p":"f","s":"Distinct","x":17,"y":0.98},{"p":"f","s":"Distinct","x":30,"y":1.0},{"p":"f","s":"Distinct","x":65,"y":1.0},
{"p":"g","s":"f₁","x":0,"y":0},{"p":"g","s":"f₁","x":2,"y":0.03},{"p":"g","s":"f₁","x":6,"y":0.05},{"p":"g","s":"f₁","x":9,"y":0.12},{"p":"g","s":"f₁","x":13,"y":0.1},{"p":"g","s":"f₁","x":13.6,"y":0.05},{"p":"g","s":"f₁","x":14,"y":0.45},{"p":"g","s":"f₁","x":16,"y":0.35},{"p":"g","s":"f₁","x":20,"y":0.3},{"p":"g","s":"f₁","x":25,"y":0.28},{"p":"g","s":"f₁","x":32,"y":0.22},{"p":"g","s":"f₁","x":33,"y":0.1},{"p":"g","s":"f₁","x":34,"y":0.02},{"p":"g","s":"f₁","x":38,"y":0},
{"p":"g","s":"Distinct","x":0,"y":0},{"p":"g","s":"Distinct","x":2,"y":0.08},{"p":"g","s":"Distinct","x":8,"y":0.1},{"p":"g","s":"Distinct","x":9,"y":0.25},{"p":"g","s":"Distinct","x":13.6,"y":0.3},{"p":"g","s":"Distinct","x":14,"y":0.68},{"p":"g","s":"Distinct","x":17,"y":0.78},{"p":"g","s":"Distinct","x":30,"y":0.8},{"p":"g","s":"Distinct","x":32,"y":0.85},{"p":"g","s":"Distinct","x":33,"y":0.98},{"p":"g","s":"Distinct","x":38,"y":0.98},
{"p":"h","s":"f₁","x":0,"y":0},{"p":"h","s":"f₁","x":4,"y":0.02},{"p":"h","s":"f₁","x":5,"y":0.05},{"p":"h","s":"f₁","x":12,"y":0.1},{"p":"h","s":"f₁","x":22,"y":0.1},{"p":"h","s":"f₁","x":23,"y":0.22},{"p":"h","s":"f₁","x":30,"y":0.25},{"p":"h","s":"f₁","x":36,"y":0.3},{"p":"h","s":"f₁","x":38,"y":0.48},{"p":"h","s":"f₁","x":40,"y":0.3},{"p":"h","s":"f₁","x":43,"y":0.05},{"p":"h","s":"f₁","x":45,"y":0},{"p":"h","s":"f₁","x":64,"y":0},
{"p":"h","s":"Distinct","x":0,"y":0},{"p":"h","s":"Distinct","x":4,"y":0.05},{"p":"h","s":"Distinct","x":5,"y":0.1},{"p":"h","s":"Distinct","x":12,"y":0.18},{"p":"h","s":"Distinct","x":22,"y":0.25},{"p":"h","s":"Distinct","x":23,"y":0.35},{"p":"h","s":"Distinct","x":30,"y":0.4},{"p":"h","s":"Distinct","x":36,"y":0.45},{"p":"h","s":"Distinct","x":37,"y":0.55},{"p":"h","s":"Distinct","x":38,"y":0.9},{"p":"h","s":"Distinct","x":45,"y":0.95},{"p":"h","s":"Distinct","x":55,"y":0.98},{"p":"h","s":"Distinct","x":64,"y":1.0}
],
"none":[]
},
"columns":4,
"spacing":{"row":10,"column":25},
"bounds":"flush",
"align":"each",
"concat":[
{"title":"(a) Video Game Consoles","width":100,"height":82,"data":{"name":"m"},"transform":[{"filter":"datum.p=='a'"}],"mark":{"type":"line","clip":true,"strokeWidth":0.9,"opacity":0.85},"encoding":{"x":{"field":"x","type":"quantitative","scale":{"domain":[-3.25,68.25],"nice":false,"zero":false},"axis":{"values":[0,20,40,60],"labels":false,"title":null}},"y":{"field":"y","type":"quantitative","scale":{"domain":[0,291],"nice":false},"axis":{"values":[0,50,100,150,200,250],"format":"d","title":"Cardinality"}},"color":{"field":"s","type":"nominal","scale":{"domain":["N1-UNIF","Chao92","Jack1","SOR","Distinct","Truth"],"range":["#4c72b0","#dd8452","#55a868","#c44e52","#8172b3","#c49a6c"]},"legend":{"title":null,"orient":"none","legendX":0,"legendY":301,"encode":{"labels":{"update":{"fontStyle":{"signal":"datum.label=='Distinct'?'italic':'normal'"}}}}}},"strokeDash":{"field":"s","type":"nominal","scale":{"domain":["N1-UNIF","Chao92","Jack1","SOR","Distinct","Truth"],"range":[[1,0],[1,0],[1,0],[1,0],[1,0],[3,2]]},"legend":{"title":null,"orient":"none","legendX":0,"legendY":301,"encode":{"labels":{"update":{"fontStyle":{"signal":"datum.label=='Distinct'?'italic':'normal'"}}}}}}}},
{"title":"(b) Volcanos","width":100,"height":82,"data":{"name":"m"},"transform":[{"filter":"datum.p=='b'"}],"mark":{"type":"line","clip":true,"strokeWidth":0.9,"opacity":0.85},"encoding":{"x":{"field":"x","type":"quantitative","scale":{"domain":[-3.25,68.25],"nice":false,"zero":false},"axis":{"values":[0,20,40,60],"labels":false,"title":null}},"y":{"field":"y","type":"quantitative","scale":{"domain":[0,2400],"nice":false},"axis":{"values":[0,500,1000,1500,2000],"format":"d","title":null}},"color":{"field":"s","type":"nominal"},"strokeDash":{"field":"s","type":"nominal"}}},
{"title":"(c) Skyscrapers","width":100,"height":82,"data":{"name":"m"},"transform":[{"filter":"datum.p=='c'"}],"mark":{"type":"line","clip":true,"strokeWidth":0.9,"opacity":0.85},"encoding":{"x":{"field":"x","type":"quantitative","scale":{"domain":[-3.25,68.25],"nice":false,"zero":false},"axis":{"values":[0,20,40,60],"labels":false,"title":null}},"y":{"field":"y","type":"quantitative","scale":{"domain":[0,7440],"nice":false},"axis":{"values":[0,2000,4000,6000],"format":"d","title":null}},"color":{"field":"s","type":"nominal"},"strokeDash":{"field":"s","type":"nominal"}}},
{"title":"(d) Hospitals","width":100,"height":82,"data":{"name":"m"},"transform":[{"filter":"datum.p=='d'"}],"mark":{"type":"line","clip":true,"strokeWidth":0.9,"opacity":0.85},"encoding":{"x":{"field":"x","type":"quantitative","scale":{"domain":[-3.25,68.25],"nice":false,"zero":false},"axis":{"values":[0,20,40,60],"labels":false,"title":null}},"y":{"field":"y","type":"quantitative","scale":{"domain":[0,19200],"nice":false},"axis":{"values":[0,5000,10000,15000],"format":"d","title":null}},"color":{"field":"s","type":"nominal"},"strokeDash":{"field":"s","type":"nominal"}}},

{"width":100,"height":20,"data":{"name":"i"},"transform":[{"filter":"datum.p=='a'"}],"mark":{"type":"line","strokeWidth":0.9,"opacity":0.85},"encoding":{"x":{"field":"x","type":"quantitative","scale":{"domain":[-3.25,68.25],"nice":false,"zero":false},"axis":{"values":[0,20,40,60],"format":"d","title":null}},"y":{"field":"y","type":"quantitative","scale":{"domain":[-0.06,1.1],"nice":false,"zero":false},"axis":{"values":[0,1],"format":"d","title":"Indicators"}},"stroke":{"field":"s","type":"nominal","scale":{"domain":["f₁","Distinct"],"range":["#ccb974","#64b5cd"]},"legend":{"title":null,"orient":"none","legendX":404,"legendY":301,"labelFontStyle":"italic"}}}},
{"width":100,"height":20,"data":{"name":"i"},"transform":[{"filter":"datum.p=='b'"}],"mark":{"type":"line","strokeWidth":0.9,"opacity":0.85},"encoding":{"x":{"field":"x","type":"quantitative","scale":{"domain":[-3.25,68.25],"nice":false,"zero":false},"axis":{"values":[0,20,40,60],"format":"d","title":null}},"y":{"field":"y","type":"quantitative","scale":{"domain":[-0.06,1.1],"nice":false,"zero":false},"axis":{"values":[0,1],"format":"d","title":null}},"stroke":{"field":"s","type":"nominal"}}},
{"width":100,"height":20,"data":{"name":"i"},"transform":[{"filter":"datum.p=='c'"}],"mark":{"type":"line","strokeWidth":0.9,"opacity":0.85},"encoding":{"x":{"field":"x","type":"quantitative","scale":{"domain":[-3.25,68.25],"nice":false,"zero":false},"axis":{"values":[0,20,40,60],"format":"d","title":null}},"y":{"field":"y","type":"quantitative","scale":{"domain":[-0.06,1.1],"nice":false,"zero":false},"axis":{"values":[0,1],"format":"d","title":null}},"stroke":{"field":"s","type":"nominal"}}},
{"width":100,"height":20,"data":{"name":"i"},"transform":[{"filter":"datum.p=='d'"}],"mark":{"type":"line","strokeWidth":0.9,"opacity":0.85},"encoding":{"x":{"field":"x","type":"quantitative","scale":{"domain":[-3.25,68.25],"nice":false,"zero":false},"axis":{"values":[0,20,40,60],"format":"d","title":null}},"y":{"field":"y","type":"quantitative","scale":{"domain":[-0.06,1.1],"nice":false,"zero":false},"axis":{"values":[0,1],"format":"d","title":null}},"stroke":{"field":"s","type":"nominal"}}},

{"width":100,"height":23,"data":{"name":"none"},"mark":"point","view":{"stroke":null}},
{"width":100,"height":23,"data":{"name":"none"},"mark":"point","view":{"stroke":null}},
{"width":100,"height":23,"data":{"name":"none"},"mark":"point","view":{"stroke":null}},
{"width":100,"height":23,"data":{"name":"none"},"mark":"point","view":{"stroke":null}},

{"title":"(e) Mountains","width":100,"height":80,"data":{"name":"m"},"transform":[{"filter":"datum.p=='e'"}],"mark":{"type":"line","clip":true,"strokeWidth":0.9,"opacity":0.85},"encoding":{"x":{"field":"x","type":"quantitative","scale":{"domain":[-3.25,68.25],"nice":false,"zero":false},"axis":{"values":[0,20,40,60],"labels":false,"title":null}},"y":{"field":"y","type":"quantitative","scale":{"domain":[0,1600000],"nice":false},"axis":{"values":[0,250000,500000,750000,1000000,1250000,1500000],"format":"d","title":null}},"color":{"field":"s","type":"nominal"},"strokeDash":{"field":"s","type":"nominal"}}},
{"title":"(f) Municipalities of the CZ","width":100,"height":80,"data":{"name":"m"},"transform":[{"filter":"datum.p=='f'"}],"mark":{"type":"line","clip":true,"strokeWidth":0.9,"opacity":0.85},"encoding":{"x":{"field":"x","type":"quantitative","scale":{"domain":[-3.25,68.25],"nice":false,"zero":false},"axis":{"values":[0,20,40,60],"labels":false,"title":null}},"y":{"field":"y","type":"quantitative","scale":{"domain":[0,10000],"nice":false},"axis":{"values":[0,2000,4000,6000,8000,10000],"format":"d","title":null}},"color":{"field":"s","type":"nominal"},"strokeDash":{"field":"s","type":"nominal"}}},
{"title":"(g) Cathedrals of Mexico","width":100,"height":80,"data":{"name":"m"},"transform":[{"filter":"datum.p=='g'"}],"mark":{"type":"line","clip":true,"strokeWidth":0.9,"opacity":0.85},"encoding":{"x":{"field":"x","type":"quantitative","scale":{"domain":[-1.9,40.1],"nice":false,"zero":false},"axis":{"values":[0,10,20,30,40],"labels":false,"title":null}},"y":{"field":"y","type":"quantitative","scale":{"domain":[0,147],"nice":false},"axis":{"values":[0,25,50,75,100,125],"format":"d","title":null}},"color":{"field":"s","type":"nominal"},"strokeDash":{"field":"s","type":"nominal"}}},
{"title":"(h) Paintings by Vincent van Gogh","width":100,"height":80,"data":{"name":"m"},"transform":[{"filter":"datum.p=='h'"}],"mark":{"type":"line","clip":true,"strokeWidth":0.9,"opacity":0.85},"encoding":{"x":{"field":"x","type":"quantitative","scale":{"domain":[-3.2,67.2],"nice":false,"zero":false},"axis":{"values":[0,20,40,60],"labels":false,"title":null}},"y":{"field":"y","type":"quantitative","scale":{"domain":[0,1376],"nice":false},"axis":{"values":[0,200,400,600,800,1000,1200],"format":"d","title":null}},"color":{"field":"s","type":"nominal"},"strokeDash":{"field":"s","type":"nominal"}}},

{"width":100,"height":20,"data":{"name":"i"},"transform":[{"filter":"datum.p=='e'"}],"mark":{"type":"line","strokeWidth":0.9,"opacity":0.85},"encoding":{"x":{"field":"x","type":"quantitative","scale":{"domain":[-3.25,68.25],"nice":false,"zero":false},"axis":{"values":[0,20,40,60],"format":"d","title":"Number of Samples"}},"y":{"field":"y","type":"quantitative","scale":{"domain":[-0.06,1.1],"nice":false,"zero":false},"axis":{"values":[0,1],"format":"d","title":"Indicators"}},"stroke":{"field":"s","type":"nominal"}}},
{"width":100,"height":20,"data":{"name":"i"},"transform":[{"filter":"datum.p=='f'"}],"mark":{"type":"line","strokeWidth":0.9,"opacity":0.85},"encoding":{"x":{"field":"x","type":"quantitative","scale":{"domain":[-3.25,68.25],"nice":false,"zero":false},"axis":{"values":[0,20,40,60],"format":"d","title":"Number of Samples"}},"y":{"field":"y","type":"quantitative","scale":{"domain":[-0.06,1.1],"nice":false,"zero":false},"axis":{"values":[0,1],"format":"d","title":null}},"stroke":{"field":"s","type":"nominal"}}},
{"width":100,"height":20,"data":{"name":"i"},"transform":[{"filter":"datum.p=='g'"}],"mark":{"type":"line","strokeWidth":0.9,"opacity":0.85},"encoding":{"x":{"field":"x","type":"quantitative","scale":{"domain":[-1.9,40.1],"nice":false,"zero":false},"axis":{"values":[0,10,20,30,40],"format":"d","title":"Number of Samples"}},"y":{"field":"y","type":"quantitative","scale":{"domain":[-0.06,1.1],"nice":false,"zero":false},"axis":{"values":[0,1],"format":"d","title":null}},"stroke":{"field":"s","type":"nominal"}}},
{"width":100,"height":20,"data":{"name":"i"},"transform":[{"filter":"datum.p=='h'"}],"mark":{"type":"line","strokeWidth":0.9,"opacity":0.85},"encoding":{"x":{"field":"x","type":"quantitative","scale":{"domain":[-3.2,67.2],"nice":false,"zero":false},"axis":{"values":[0,20,40,60],"format":"d","title":"Number of Samples"}},"y":{"field":"y","type":"quantitative","scale":{"domain":[-0.06,1.1],"nice":false,"zero":false},"axis":{"values":[0,1],"format":"d","title":null}},"stroke":{"field":"s","type":"nominal"}}}
],
"config":{
"font":"DejaVu Sans",
"view":{"stroke":"#333","strokeWidth":0.8},
"axis":{"grid":false,"domain":false,"ticks":true,"tickColor":"#333","tickSize":2.5,"tickWidth":0.7,"labelFontSize":5.3,"labelColor":"#333","labelPadding":1.5,"titleFontSize":5.5,"titleFontWeight":"normal","titleColor":"#333","titlePadding":3},
"title":{"fontSize":6.7,"fontWeight":"normal","color":"#222","offset":4},
"legend":{"direction":"horizontal","symbolType":"stroke","symbolSize":120,"symbolStrokeWidth":1,"labelFontSize":5.3,"labelColor":"#333","columnPadding":7,"padding":4,"strokeColor":"#ccc","cornerRadius":2,"fillColor":"#ffffff","labelOffset":3}
}
}
